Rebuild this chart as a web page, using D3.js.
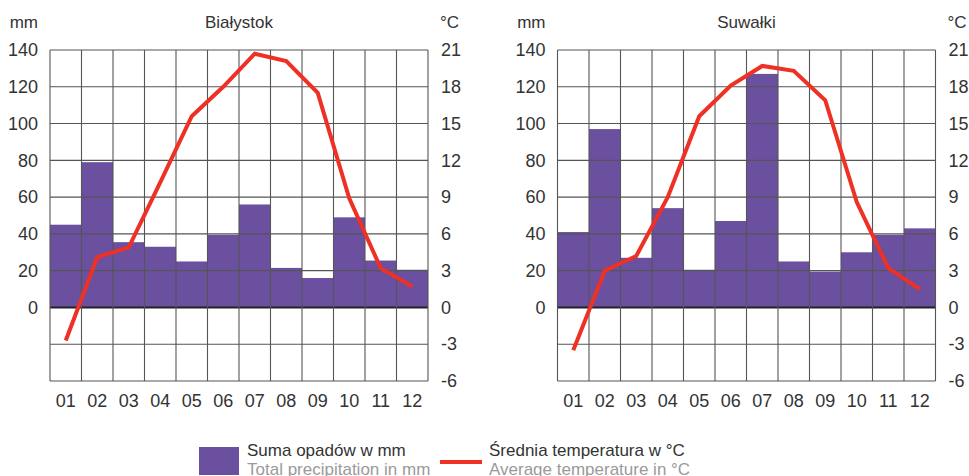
<!DOCTYPE html>
<html>
<head>
<meta charset="utf-8">
<style>
  body { margin: 0; background: #fff; }
  svg { font-family: "Liberation Sans", Arial, sans-serif; }
</style>
</head>
<body>
<svg width="969" height="476"></svg>
<script src="https://d3js.org/d3.v7.min.js"></script>
<script>

var months = ["01", "02", "03", "04", "05", "06", "07", "08", "09", "10", "11", "12"];
var mmTicks = [0, 20, 40, 60, 80, 100, 120, 140];
var tempTicks = [-6, -3, 0, 3, 6, 9, 12, 15, 18, 21];

var bialystokPrecip = [45, 79, 35.5, 33, 25, 39.5, 56, 21.5, 16, 49, 25.5, 20.5];
var bialystokTemp = [-2.7, 4.1, 4.9, 10.2, 15.6, 18.0, 20.7, 20.1, 17.5, 8.9, 3.2, 1.7];

var suwalkiPrecip = [41, 97, 27, 54, 20.5, 47, 127, 25, 19.5, 30, 39.5, 43];
var suwalkiTemp = [-3.5, 3.0, 4.2, 9.0, 15.6, 18.1, 19.7, 19.3, 16.9, 8.6, 3.2, 1.5];

var purple = "#6b50a0",
    red = "#ee3124",
    textColor = "#333";

var svg = d3.select("svg"),
    plotTop = 50, plotBottom = 381, plotW = 378;

var y = d3.scaleLinear().domain([-40, 140]).range([plotBottom, plotTop]);
var yT = d3.scaleLinear().domain([-6, 21]).range([plotBottom, plotTop]);

function drawChart(name, precip, temp, left) {
  var g = svg.append("g");
  var x = d3.scaleBand().domain(months).range([left, left + plotW]);

  // bars
  g.selectAll(".bar")
    .data(precip)
    .enter().append("rect")
      .attr("x", function(d, i) { return x(months[i]); })
      .attr("width", x.bandwidth())
      .attr("y", function(d) { return y(d); })
      .attr("height", function(d) { return y(0) - y(d); })
      .attr("fill", purple);

  // grid
  g.selectAll(".h")
    .data(d3.range(-40, 141, 20))
    .enter().append("line")
      .attr("x1", left).attr("x2", left + plotW)
      .attr("y1", function(d) { return y(d); })
      .attr("y2", function(d) { return y(d); })
      .attr("stroke", function(d) { return d === 0 ? "#222" : "#555"; })
      .attr("stroke-width", function(d) { return d === 0 ? 2 : 1.1; });

  g.selectAll(".v")
    .data(months.concat(["end"]))
    .enter().append("line")
      .attr("x1", function(d, i) { return left + i * x.bandwidth(); })
      .attr("x2", function(d, i) { return left + i * x.bandwidth(); })
      .attr("y1", plotTop).attr("y2", plotBottom)
      .attr("stroke", "#555")
      .attr("stroke-width", 1.1);

  // temperature line
  var line = d3.line()
      .x(function(d, i) { return x(months[i]) + x.bandwidth() / 2; })
      .y(function(d) { return yT(d); });

  g.append("path")
      .datum(temp)
      .attr("fill", "none")
      .attr("stroke", red)
      .attr("stroke-width", 4)
      .attr("stroke-linejoin", "miter")
      .attr("d", line);

  // axes
  var ax = g.append("g")
      .attr("transform", "translate(" + left + ",0)")
      .call(d3.axisLeft(y).tickValues(mmTicks).tickFormat(String).tickSize(0).tickPadding(12));
  var ax2 = g.append("g")
      .attr("transform", "translate(" + (left + plotW) + ",0)")
      .call(d3.axisRight(yT).tickValues(tempTicks).tickFormat(String).tickSize(0).tickPadding(13));
  var ax3 = g.append("g")
      .attr("transform", "translate(0," + plotBottom + ")")
      .call(d3.axisBottom(x).tickSize(0).tickPadding(13));
  [ax, ax2, ax3].forEach(function(a) {
    a.select(".domain").remove();
    a.selectAll("text").attr("font-size", "18px").attr("fill", textColor)
      .attr("font-family", "'Liberation Sans', Arial, sans-serif");
  });

  g.append("text")
      .attr("x", left + plotW / 2)
      .attr("y", 28)
      .attr("text-anchor", "middle")
      .attr("font-size", "17px")
      .attr("fill", textColor)
      .text(name);
  g.append("text")
      .attr("x", left - 12)
      .attr("y", 28)
      .attr("text-anchor", "end")
      .attr("font-size", "17px")
      .attr("fill", textColor)
      .text("mm");
  g.append("text")
      .attr("x", left + plotW + 12)
      .attr("y", 28)
      .attr("font-size", "17px")
      .attr("fill", textColor)
      .text("°C");
}

drawChart("Białystok", bialystokPrecip, bialystokTemp, 50);
drawChart("Suwałki", suwalkiPrecip, suwalkiTemp, 557.5);

// legend
var leg = svg.append("g");
leg.append("rect")
    .attr("x", 199).attr("y", 447).attr("width", 40).attr("height", 28)
    .attr("fill", purple);
leg.append("text")
    .attr("x", 247).attr("y", 456)
    .attr("font-size", "17px").attr("fill", textColor)
    .text("Suma opadów w mm");
leg.append("text")
    .attr("x", 247).attr("y", 475)
    .attr("font-size", "17px").attr("fill", "#9a9a9a")
    .text("Total precipitation in mm");

leg.append("line")
    .attr("x1", 440).attr("x2", 482).attr("y1", 462).attr("y2", 462)
    .attr("stroke", red).attr("stroke-width", 4);
leg.append("text")
    .attr("x", 489).attr("y", 456)
    .attr("font-size", "17px").attr("fill", textColor)
    .text("Średnia temperatura w °C");
leg.append("text")
    .attr("x", 489).attr("y", 475)
    .attr("font-size", "17px").attr("fill", "#9a9a9a")
    .text("Average temperature in °C");

</script>
</body>
</html>
